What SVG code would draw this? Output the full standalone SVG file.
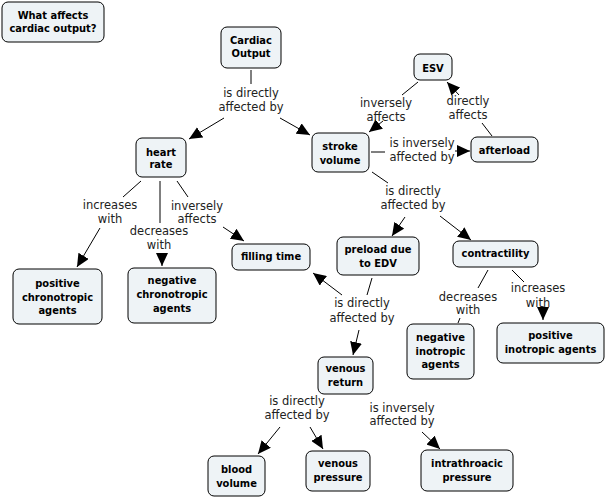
<svg xmlns="http://www.w3.org/2000/svg" width="606" height="498" viewBox="0 0 606 498">
<style>
.n rect{fill:#eef3f6;stroke:#000;stroke-width:1}
.n text{font-family:'DejaVu Sans Condensed','DejaVu Sans',sans-serif;font-weight:bold;font-size:11px;text-anchor:middle;fill:#000}
.l text{font-family:'DejaVu Sans',sans-serif;font-size:11.5px;text-anchor:middle;fill:#222}
.c line{stroke:#000;stroke-width:1}
.a{marker-end:url(#ah)}
</style>
<defs>
<marker id="ah" markerUnits="userSpaceOnUse" markerWidth="14" markerHeight="12" viewBox="0 0 14 12" refX="13" refY="6" orient="auto">
<path d="M0,0 L13,6 L0,12 Z" fill="#000"/>
</marker>
</defs>
<rect width="606" height="498" fill="#fff"/>
<g id="connectors" class="c">
<line x1="251" y1="70" x2="251" y2="84"/>
<line class="a" x1="224" y1="118" x2="189" y2="139"/>
<line class="a" x1="280" y1="118" x2="310" y2="135"/>
<line x1="418" y1="82" x2="402" y2="95"/>
<line class="a" x1="383" y1="121" x2="369" y2="132"/>
<line x1="492" y1="136" x2="482" y2="123"/>
<line class="a" x1="459" y1="95" x2="447" y2="82"/>
<line x1="371" y1="152" x2="385" y2="152"/>
<line class="a" x1="455" y1="151" x2="470" y2="151"/>
<line x1="372" y1="172" x2="388" y2="183"/>
<line class="a" x1="405" y1="217" x2="392" y2="236"/>
<line class="a" x1="440" y1="216" x2="471" y2="240"/>
<line x1="141" y1="181" x2="123" y2="197"/>
<line class="a" x1="100" y1="228" x2="77" y2="267"/>
<line x1="160" y1="181" x2="160" y2="223"/>
<line class="a" x1="162" y1="253" x2="162" y2="266"/>
<line x1="177" y1="181" x2="188" y2="197"/>
<line class="a" x1="223" y1="227" x2="244" y2="241"/>
<line x1="488" y1="270" x2="478" y2="288"/>
<line x1="460" y1="318" x2="458" y2="323"/>
<line x1="512" y1="270" x2="524" y2="282"/>
<line class="a" x1="543" y1="306" x2="543" y2="320"/>
<line x1="372" y1="278" x2="367" y2="295"/>
<line class="a" x1="342" y1="295" x2="313" y2="273"/>
<line class="a" x1="359" y1="330" x2="353" y2="355"/>
<line class="a" x1="280" y1="427" x2="258" y2="454"/>
<line class="a" x1="310" y1="427" x2="323" y2="449"/>
<line class="a" x1="422" y1="432" x2="440" y2="449"/>
</g>
<g id="labels" class="l">
<text x="251" y="97">is directly</text><text x="251" y="111">affected by</text>
<text x="386" y="107">inversely</text><text x="386" y="121">affects</text>
<text x="468" y="105">directly</text><text x="468" y="119">affects</text>
<text x="422" y="147">is inversely</text><text x="422" y="161">affected by</text>
<text x="413" y="195">is directly</text><text x="413" y="209">affected by</text>
<text x="110" y="209">increases</text><text x="110" y="223">with</text>
<text x="159" y="235">decreases</text><text x="159" y="249">with</text>
<text x="197" y="210">inversely</text><text x="197" y="223">affects</text>
<text x="468" y="301">decreases</text><text x="468" y="314">with</text>
<text x="538" y="292">increases</text><text x="538" y="307">with</text>
<text x="362" y="307">is directly</text><text x="362" y="322">affected by</text>
<text x="297" y="405">is directly</text><text x="297" y="419">affected by</text>
<text x="402" y="412">is inversely</text><text x="402" y="425">affected by</text>
</g>
<g id="n0" class="n"><rect x="2" y="2" width="102" height="40" rx="6"/><text x="53" y="19">What affects</text><text x="53" y="32">cardiac output?</text></g>
<g id="n1" class="n"><rect x="221" y="27" width="60" height="41" rx="6"/><text x="251" y="44">Cardiac</text><text x="251" y="57">Output</text></g>
<g id="n2" class="n"><rect x="414" y="54" width="38" height="26" rx="6"/><text x="433" y="72">ESV</text></g>
<g id="n3" class="n"><rect x="136" y="138" width="50" height="39" rx="6"/><text x="161" y="156">heart</text><text x="161" y="168">rate</text></g>
<g id="n4" class="n"><rect x="312" y="133" width="57" height="39" rx="6"/><text x="340" y="150">stroke</text><text x="340" y="164">volume</text></g>
<g id="n5" class="n"><rect x="471" y="137" width="67" height="25" rx="6"/><text x="504.5" y="154">afterload</text></g>
<g id="n6" class="n"><rect x="232" y="244" width="78" height="26" rx="6"/><text x="271" y="260">filling time</text></g>
<g id="n7" class="n"><rect x="337" y="237" width="82" height="38" rx="6"/><text x="378" y="253">preload due</text><text x="378" y="267">to EDV</text></g>
<g id="n8" class="n"><rect x="453" y="241" width="85" height="26" rx="6"/><text x="495.5" y="257">contractility</text></g>
<g id="n9" class="n"><rect x="13" y="269" width="89" height="55" rx="6"/><text x="57.5" y="287">positive</text><text x="57.5" y="301">chronotropic</text><text x="57.5" y="314">agents</text></g>
<g id="n10" class="n"><rect x="128" y="268" width="88" height="55" rx="6"/><text x="172" y="284">negative</text><text x="172" y="298">chronotropic</text><text x="172" y="312">agents</text></g>
<g id="n11" class="n"><rect x="407" y="324" width="67" height="55" rx="6"/><text x="440.5" y="341">negative</text><text x="440.5" y="355">inotropic</text><text x="440.5" y="368">agents</text></g>
<g id="n12" class="n"><rect x="497" y="323" width="107" height="40" rx="6"/><text x="550.5" y="339">positive</text><text x="550.5" y="353">inotropic agents</text></g>
<g id="n13" class="n"><rect x="318" y="357" width="55" height="37" rx="6"/><text x="345.5" y="372">venous</text><text x="345.5" y="386">return</text></g>
<g id="n14" class="n"><rect x="208" y="456" width="57" height="40" rx="6"/><text x="236.5" y="473">blood</text><text x="236.5" y="487">volume</text></g>
<g id="n15" class="n"><rect x="306" y="451" width="64" height="40" rx="6"/><text x="338" y="467">venous</text><text x="338" y="481">pressure</text></g>
<g id="n16" class="n"><rect x="421" y="450" width="92" height="41" rx="6"/><text x="467" y="467">intrathroacic</text><text x="467" y="481">pressure</text></g>
</svg>
